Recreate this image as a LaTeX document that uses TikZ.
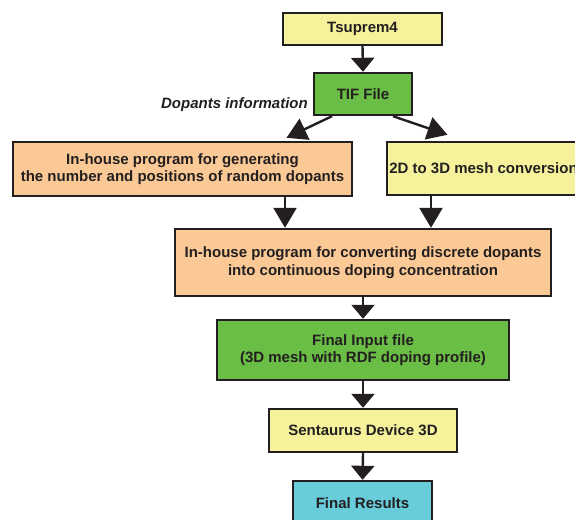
\documentclass[tikz,border=0pt]{standalone}
\usepackage{fontspec}
\setmainfont{Liberation Sans}
\usetikzlibrary{arrows.meta}
\definecolor{byel}{HTML}{F6F29C}
\definecolor{bgreen}{HTML}{6ABD45}
\definecolor{borange}{HTML}{FBC996}
\definecolor{bcyan}{HTML}{68CCDA}
\definecolor{bline}{HTML}{231F20}
\tikzset{
  box/.style={draw=bline, line width=2.4pt, inner sep=0pt, align=center,
    font=\fontsize{15}{17.5}\selectfont\bfseries, text=bline},
  arr/.style={draw=bline, line width=2.4pt, -{Triangle[width=23pt,length=14pt]}},
  arrl/.style={draw=bline, line width=2.4pt, -{Triangle[width=23pt,length=20pt]}},
}
\begin{document}
\begin{tikzpicture}[x=1pt,y=-1pt]
\useasboundingbox (0,0) rectangle (575,519);
\clip (0,0) rectangle (575,519);
\node[box, fill=byel, minimum width=159pt, minimum height=32pt] (ts) at (362.5,29) {Tsuprem4};
\node[box, fill=bgreen, minimum width=98pt, minimum height=42pt] (tif) at (363,94) {TIF File};
\node[box, fill=borange, minimum width=339pt, minimum height=54pt] (gen) at (182.5,169)
  {In-house program for generating\\the number and positions of random dopants};
\node[box, fill=byel, minimum width=193pt, minimum height=53pt] (mesh) at (483.5,168.5)
  {2D to 3D mesh conversion};
\node[box, fill=borange, minimum width=376pt, minimum height=67pt] (conv) at (363,262.5)
  {In-house program for converting discrete dopants\\into continuous doping concentration};
\node[box, fill=bgreen, minimum width=292pt, minimum height=60pt] (fin) at (363,350)
  {Final Input file\\(3D mesh with RDF doping profile)};
\node[box, fill=byel, minimum width=188pt, minimum height=43pt] (sd) at (363,430.5)
  {Sentaurus Device 3D};
\node[box, fill=bcyan, minimum width=139pt, minimum height=44pt] (res) at (362.5,503)
  {Final Results};
\node[anchor=east, inner sep=0pt, text=bline, font=\fontsize{15}{17}\selectfont\bfseries\itshape] (dop) at (308,105) {Dopants information};
\draw[arr] (ts.south) -- (tif.north);
\draw[arrl] ([xshift=-31pt]tif.south) -- ([xshift=104pt,yshift=3pt]gen.north);
\draw[arrl] ([xshift=30pt]tif.south) -- ([xshift=-36pt,yshift=6pt]mesh.north);
\draw[arrl] ([xshift=102.5pt]gen.south) -- ([xshift=102.5pt]gen.south |- conv.north);
\draw[arrl] ([xshift=-52.5pt]mesh.south) -- ([xshift=-52.5pt]mesh.south |- conv.north);
\draw[arr] (conv.south) -- (fin.north);
\draw[arr] (fin.south) -- (sd.north);
\draw[arr] (sd.south) -- (res.north);
\end{tikzpicture}
\end{document}
